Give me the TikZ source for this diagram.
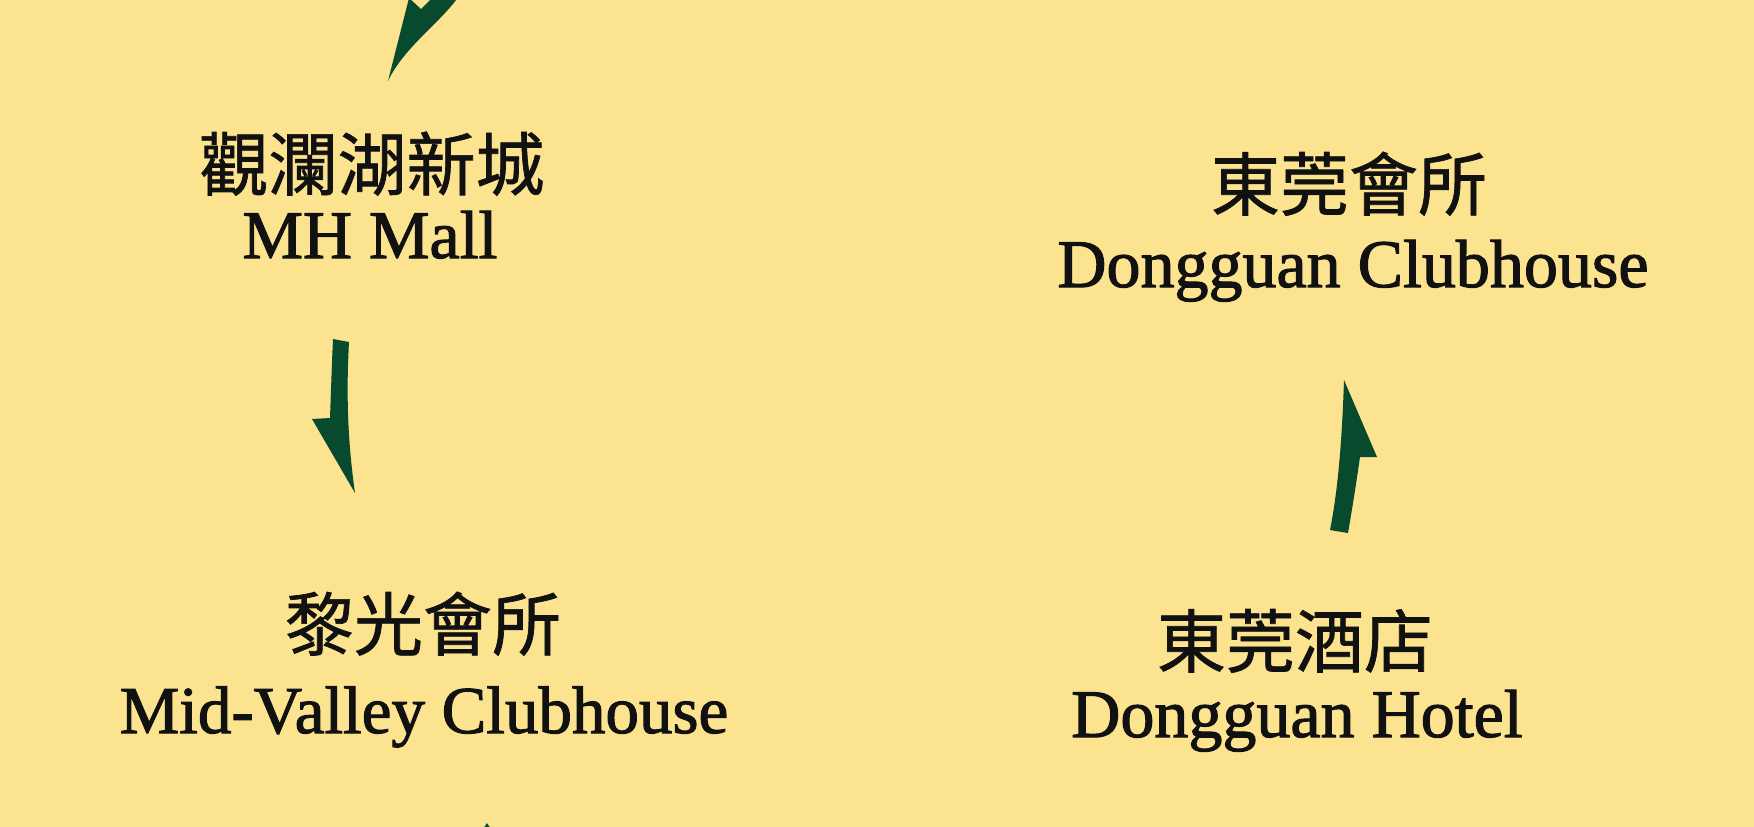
\documentclass[tikz,border=0pt]{standalone}
\usepackage{fontspec}
\setmainfont{Liberation Serif}
\newfontfamily\enfont{Liberation Serif}[FakeBold=1.6]
\newfontfamily\cjk{Noto Sans CJK TC}[FakeBold=1.0]
\definecolor{bgyellow}{RGB}{251,227,143}
\definecolor{arrowgreen}{RGB}{8,74,46}
\definecolor{inkblack}{RGB}{17,17,17}
\begin{document}
\begin{tikzpicture}[x=1pt,y=-1pt,
  cjklabel/.style={anchor=base, inner sep=0pt, font=\cjk\fontsize{69}{69}\selectfont, text=inkblack},
  enlabel/.style={anchor=base, inner sep=0pt, font=\enfont\fontsize{68}{68}\selectfont, text=inkblack},
  harrow/.style={fill=arrowgreen, draw=none}]
\fill[bgyellow] (0,0) rectangle (1754,827);
\useasboundingbox (0,0) rectangle (1754,827);
\clip (0,0) rectangle (1754,827);

% labels
\node[cjklabel] (mhcn) at (372,190) {觀瀾湖新城};
\node[enlabel]  (mhen) at (370,258) {MH Mall};
\node[cjklabel] (dccn) at (1349,210) {東莞會所};
\node[enlabel]  (dcen) at (1353,287) {Dongguan Clubhouse};
\node[cjklabel] (mvcn) at (423,650) {黎光會所};
\node[enlabel, font=\enfont\fontsize{67}{67}\selectfont]  (mven) at (424,733) {Mid-Valley Clubhouse};
\node[cjklabel] (dhcn) at (1295,667) {東莞酒店};
\node[enlabel]  (dhen) at (1297,737) {Dongguan Hotel};

% arrow entering from the top, pointing at MH Mall
\fill[harrow] (388,81) -- (409,-2) -- (421,9) -- (440,-10) -- (463,-10)
  .. controls (445,20) and (405,45) .. (388,81) -- cycle;

% MH Mall -> Mid-Valley Clubhouse
\fill[harrow] (333,339) -- (349,342)
  .. controls (347,380) and (346,430) .. (355,493)
  -- (312,419) -- (330,418)
  .. controls (331,390) and (332,360) .. (333,339) -- cycle;

% Dongguan Hotel -> Dongguan Clubhouse
\fill[harrow] (1344,380) -- (1377,457) -- (1360,457)
  .. controls (1356,485) and (1352,510) .. (1348,533)
  -- (1330,530)
  .. controls (1338,490) and (1342,440) .. (1344,380) -- cycle;

% tip of arrow entering from the bottom
\fill[harrow] (487,823) -- (493,832) -- (481,832) -- cycle;
\end{tikzpicture}
\end{document}
